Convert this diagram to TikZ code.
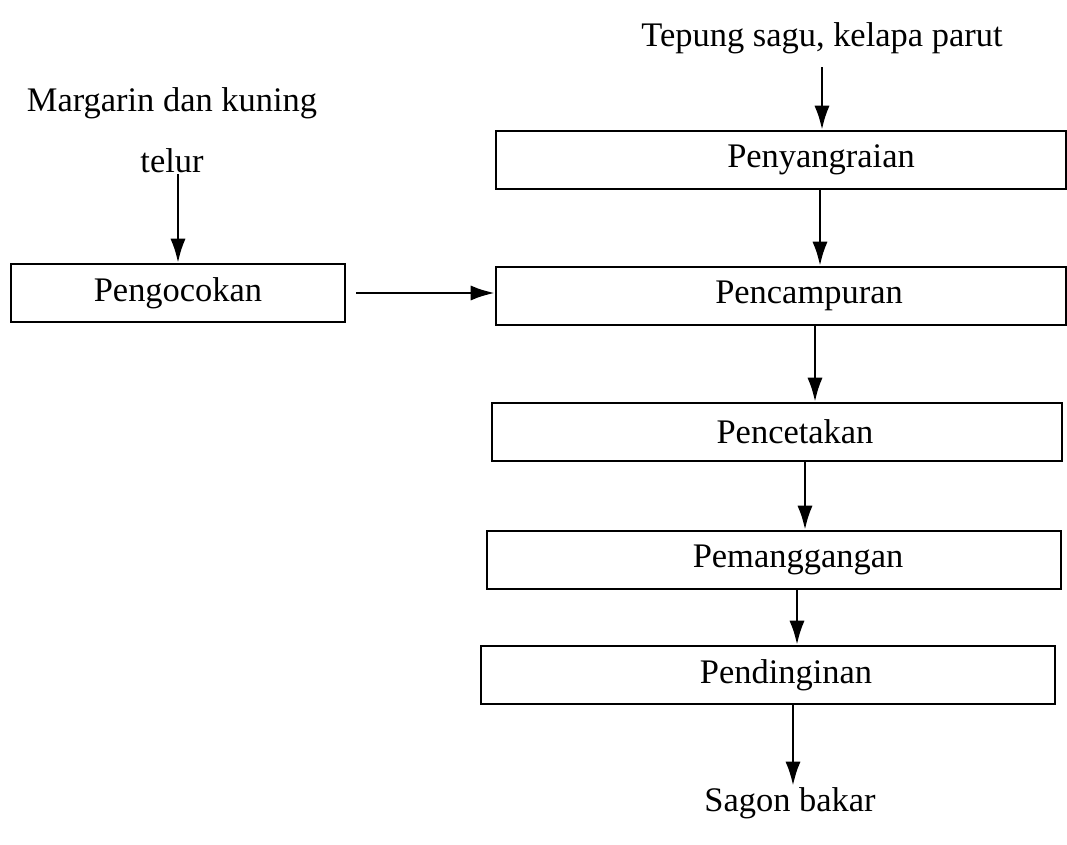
\documentclass[tikz,border=0pt]{standalone}
\usepackage{fontspec}
\setmainfont{Liberation Serif}
\usetikzlibrary{arrows.meta, positioning}

\tikzset{
  procbox/.style={draw, line width=1.8pt, rectangle, minimum height=1.45cm, inner sep=0pt},
  flow/.style={line width=1.8pt, -{Latex[length=6mm, width=3.8mm]}},
  lbl/.style={inner sep=1pt, font=\fontsize{24.5}{29}\selectfont}
}

\begin{document}
\begin{tikzpicture}[x=0.025cm, y=-0.025cm]
        \useasboundingbox (0,0) rectangle (1067,845);

        % bahan masuk
        \node[lbl] (tepung) at (822,38) {Tepung sagu, kelapa parut};
        \node[lbl, align=center] (margarin) at (172,130) {Margarin dan kuning\\[14pt]telur};

        % proses utama
        \node[procbox, minimum width=14.25cm,
              label={[lbl, xshift=1.0cm]center:Penyangraian}] (sangrai) at (781,160) {};
        \node[procbox, minimum width=14.25cm,
              label={[lbl, xshift=0.7cm]center:Pencampuran}] (campur) at (781,296) {};
        \node[procbox, minimum width=14.25cm,
              label={[lbl, xshift=0.45cm]center:Pencetakan}] (cetak) at (777,432) {};
        \node[procbox, minimum width=14.35cm,
              label={[lbl, xshift=0.6cm]center:Pemanggangan}] (panggang) at (774,560) {};
        \node[procbox, minimum width=14.35cm,
              label={[lbl, xshift=0.45cm]center:Pendinginan}] (dingin) at (768,675) {};

        % proses samping
        \node[procbox, lbl, minimum width=8.35cm] (kocok) at (178,293) {Pengocokan};

        % produk
        \node[lbl] (sagon) at (790,803) {Sagon bakar};

        % alur
        \draw[flow] ([yshift=-0.3cm]tepung.south) -- (tepung.south |- sangrai.north);
        \draw[flow] (sangrai.south -| 820,0) -- (campur.north -| 820,0);
        \draw[flow] (campur.south -| 815,0) -- (cetak.north -| 815,0);
        \draw[flow] (cetak.south -| 805,0) -- (panggang.north -| 805,0);
        \draw[flow] (panggang.south -| 797,0) -- (dingin.north -| 797,0);
        \draw[flow] (dingin.south -| 793,0) -- (sagon.north -| 793,0);
        \draw[flow] (margarin.south -| kocok.north) -- (kocok.north);
        \draw[flow] ([xshift=0.25cm]kocok.east) -- (kocok.east -| campur.west);

\end{tikzpicture}
\end{document}
